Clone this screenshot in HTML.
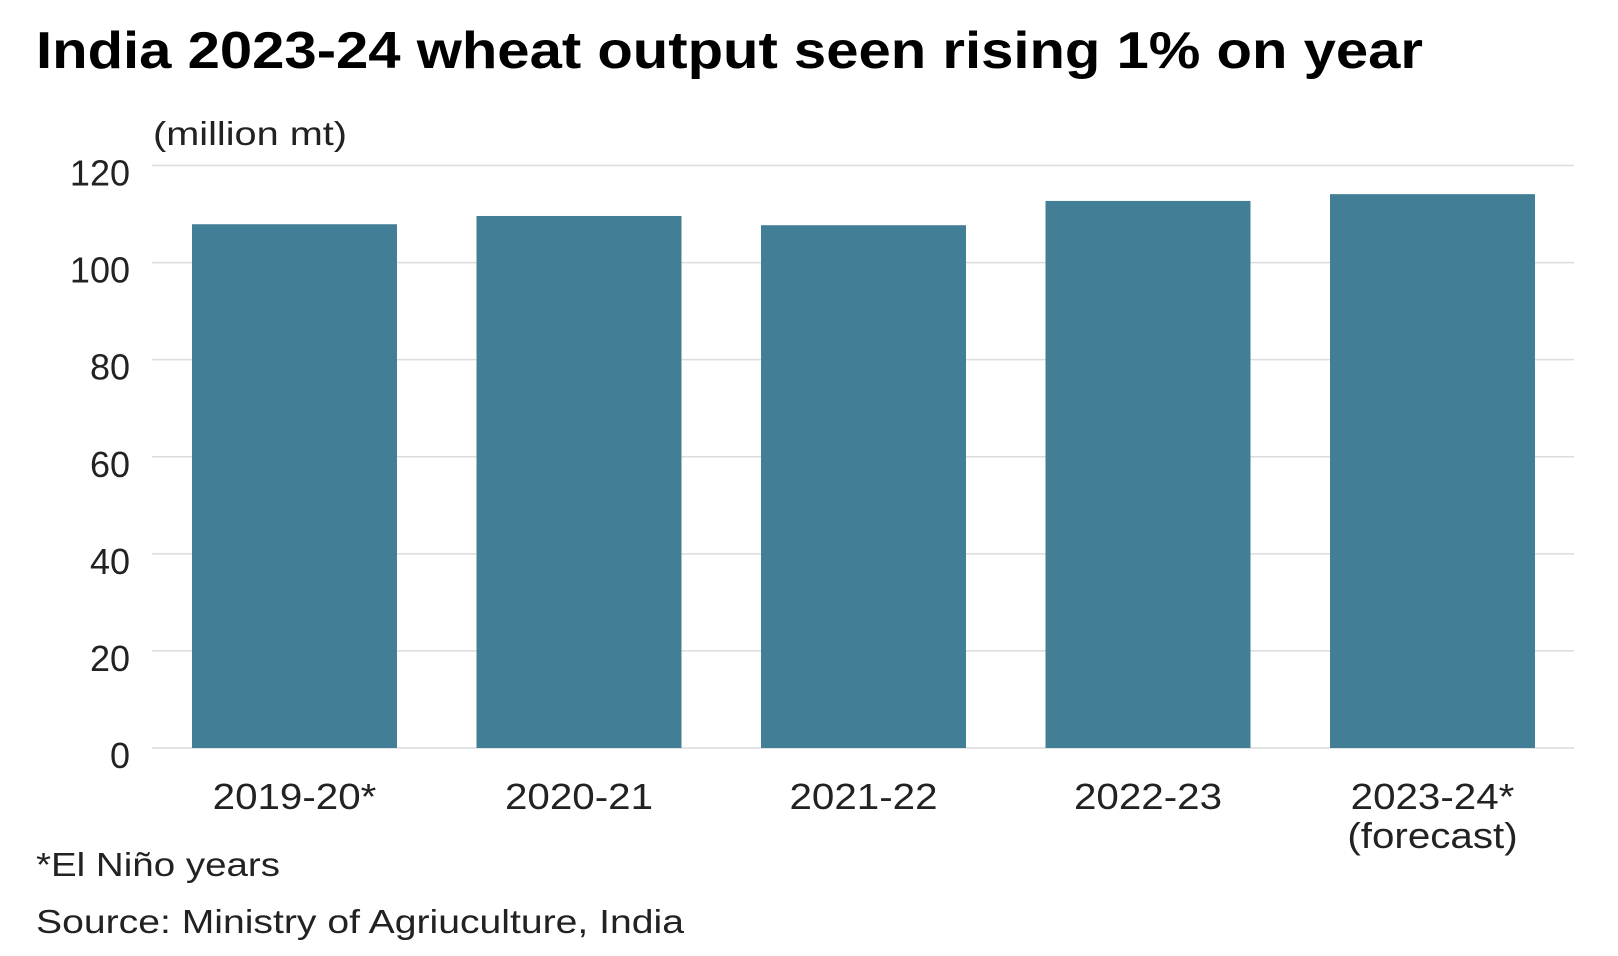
<!DOCTYPE html>
<html><head><meta charset="utf-8"><style>
html,body{margin:0;padding:0;background:#fff;}
svg{display:block;font-family:"Liberation Sans",sans-serif;}
</style></head><body>
<svg id="chart" width="1618" height="956" viewBox="0 0 1618 956">
<text x="36" y="68" font-size="52" font-weight="bold" fill="#000" textLength="1387" lengthAdjust="spacingAndGlyphs">India 2023-24 wheat output seen rising 1% on year</text>
<text x="153" y="145" font-size="33" fill="#222" textLength="194" lengthAdjust="spacingAndGlyphs">(million mt)</text>
<g id="grid"></g>
<g id="bars"></g>
<g id="xlabels"></g>
<text x="36" y="876" font-size="33" fill="#222" textLength="244" lengthAdjust="spacingAndGlyphs">*El Niño years</text>
<text x="36" y="933" font-size="33" fill="#222" textLength="648" lengthAdjust="spacingAndGlyphs">Source: Ministry of Agriuculture, India</text>
</svg>
<script>
const categories = ["2019-20*", "2020-21", "2021-22", "2022-23", "2023-24*"];
const subLabels = ["", "", "", "", "(forecast)"];
const values = [107.9, 109.6, 107.7, 112.7, 114.1];
const yTicks = [0, 20, 40, 60, 80, 100, 120];

const NS = "http://www.w3.org/2000/svg";
const plotLeft = 152, plotRight = 1574, y0 = 748, yTop = 165.5, yMax = 120;
const y = v => y0 - (v / yMax) * (y0 - yTop);
const pitch = 284.5, firstLeft = 192, barW = 205;
const xLeft = i => firstLeft + i * pitch;

const grid = document.getElementById('grid');
yTicks.forEach(t => {
  const l = document.createElementNS(NS, 'line');
  l.setAttribute('x1', plotLeft); l.setAttribute('x2', plotRight);
  l.setAttribute('y1', y(t)); l.setAttribute('y2', y(t));
  l.setAttribute('stroke', '#dcdcdc'); l.setAttribute('stroke-width', '1.5');
  
  
  grid.appendChild(l);
  const tx = document.createElementNS(NS, 'text');
  tx.setAttribute('x', 130); tx.setAttribute('y', y(t) + 20);
  tx.setAttribute('text-anchor', 'end'); tx.setAttribute('font-size', '36');
  tx.setAttribute('fill', '#222');
  tx.textContent = t;
  
  
  grid.appendChild(tx);
});

function stretch(el, f) {
  const w = el.getComputedTextLength();
  el.setAttribute('textLength', (w * f).toFixed(1));
  el.setAttribute('lengthAdjust', 'spacingAndGlyphs');
}

const bars = document.getElementById('bars');
const xl = document.getElementById('xlabels');
values.forEach((v, i) => {
  const r = document.createElementNS(NS, 'rect');
  r.setAttribute('x', xLeft(i)); r.setAttribute('width', barW);
  r.setAttribute('y', y(v)); r.setAttribute('height', y0 - y(v));
  r.setAttribute('fill', '#427f97');
  
  
  bars.appendChild(r);
  const cx = xLeft(i) + barW / 2;
  const t = document.createElementNS(NS, 'text');
  t.setAttribute('x', cx); t.setAttribute('y', 809);
  t.setAttribute('text-anchor', 'middle'); t.setAttribute('font-size', '36');
  t.setAttribute('fill', '#222');
  t.textContent = categories[i];
  
  
  xl.appendChild(t);
  stretch(t, 1.12);
  if (subLabels[i]) {
    const s = document.createElementNS(NS, 'text');
    s.setAttribute('x', cx); s.setAttribute('y', 848);
    s.setAttribute('text-anchor', 'middle'); s.setAttribute('font-size', '36');
    s.setAttribute('fill', '#222');
    s.textContent = subLabels[i];
    
    
    xl.appendChild(s);
    stretch(s, 1.12);
  }
});
</script>
</body></html>
